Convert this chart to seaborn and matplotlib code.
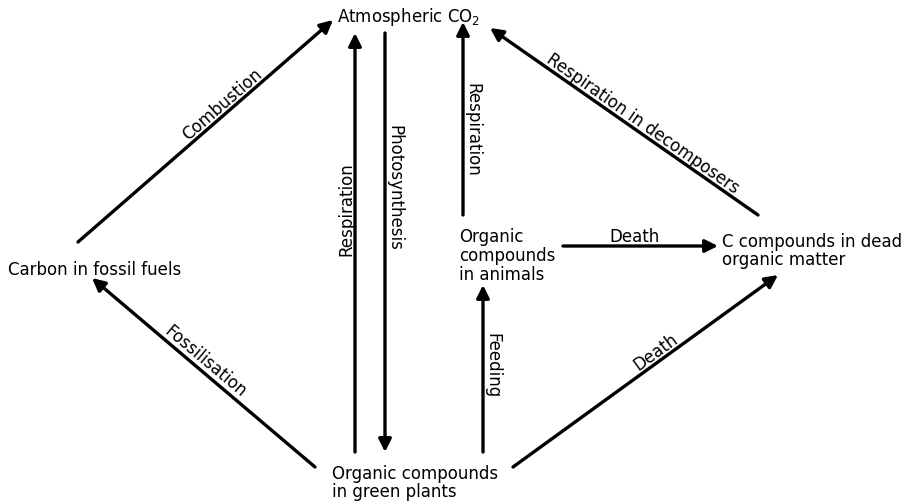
import matplotlib.pyplot as plt
import seaborn as sns

sns.set_style("white")
plt.rcParams['font.family'] = ['DejaVu Sans']
plt.rcParams['text.color'] = 'black'

# nodes: text, x, y (pixel coords, y down), alignment
node_text = ["Atmospheric CO$_2$", "Carbon in fossil fuels", "Organic\ncompounds\nin animals",
             "C compounds in dead\norganic matter", "Organic compounds\nin green plants"]
node_x = [409, 8, 459, 722, 332]
node_y = [17, 270, 256, 251, 483]
node_ha = ["center", "left", "left", "left", "left"]

# arrows: start -> end
arrow_start = [(78, 242), (355, 452), (385, 33), (463, 215), (758, 215),
               (563, 246), (483, 452), (513, 467), (315, 467)]
arrow_end = [(333, 20), (355, 33), (385, 452), (463, 22), (490, 28),
             (718, 246), (483, 285), (778, 275), (92, 278)]

# arrow labels, placed at a fraction along each arrow
label_text = ["Combustion", "Respiration", "Photosynthesis", "Respiration",
              "Respiration in decomposers", "Death", "Feeding", "Death", "Fossilisation"]
label_frac = [0.59, 0.58, 0.37, 0.44, 0.45, 0.46, 0.52, 0.56, 0.52]
label_rot = [41, 90, -90, -90, -35, 0, -90, 36, -40]

fig = plt.figure(figsize=(9.05, 5.03), dpi=100)
ax = fig.add_axes([0, 0, 1, 1])
ax.set_xlim(0, 905)
ax.set_ylim(503, 0)
ax.axis('off')

for s, e in zip(arrow_start, arrow_end):
    ax.annotate("", xy=e, xytext=s,
                arrowprops=dict(arrowstyle='-|>', lw=2.4, color='black',
                                mutation_scale=19, shrinkA=0, shrinkB=0))

for t, x, y, ha in zip(node_text, node_x, node_y, node_ha):
    ax.text(x, y, t, ha=ha, va='center', fontsize=12, linespacing=1.05)

for t, f, r, s, e in zip(label_text, label_frac, label_rot, arrow_start, arrow_end):
    x = s[0] + f * (e[0] - s[0])
    y = s[1] + f * (e[1] - s[1])
    ax.text(x, y, t, ha='center', va='bottom', rotation=r,
            rotation_mode='anchor', fontsize=12)

fig.savefig("out.png", dpi=100)
